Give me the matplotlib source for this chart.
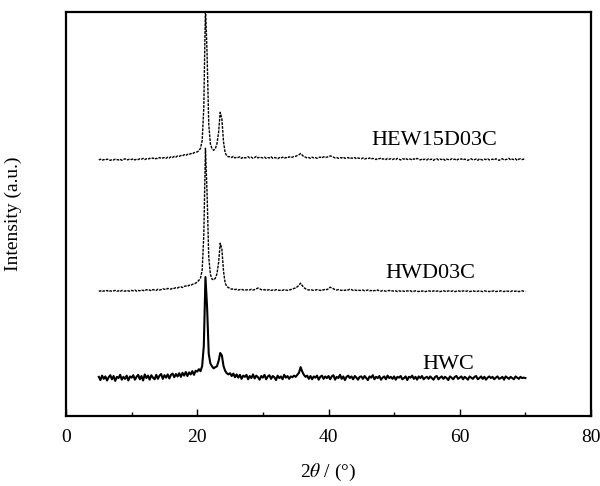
import numpy as np
import matplotlib.pyplot as plt

# Du lieu XRD doc tu hinh (cuong do tuong doi so voi duong nen cua moi mau)
# Luoi 2theo: 5 -> 70 do, buoc 0.25 (moi hang 20 diem = 5 do)
two_theta = np.linspace(5, 70, 261)

hwc = [
    0.3, -0.5, 0.6, -0.2, 0.4, -0.6, 0.2, 0.7, -0.3, 0.5, -0.7, 0.3, 0.0, 0.8, -0.4, 0.3, -0.2, 0.6, -0.6, 0.4,
    0.1, 0.7, -0.4, 0.3, 0.8, -0.3, 0.5, -0.6, 0.9, 0.0, 0.6, -0.4, 0.7, 0.1, -0.3, 0.8, -0.2, 0.6, 1.0, -0.2,
    0.7, 0.1, 0.9, -0.1, 0.8, 1.1, 0.2, 1.0, 0.4, 1.2, 0.3, 1.3, 0.6, 1.5, 0.5, 1.4, 0.9, 1.7, 0.8, 1.8,
    1.6, 2.2, 1.7, 3.0, 8.0, 25.0, 17.5, 6.0, 3.6, 2.9, 2.4, 2.7, 2.9, 4.2, 6.2, 5.6, 3.0, 1.8, 1.2, 0.9,
    1.2, 0.5, 1.1, 0.2, 0.9, 0.1, 0.8, -0.2, 0.6, 0.3, 0.8, -0.3, 0.5, 0.0, 0.9, -0.1, 0.6, 0.2, -0.4, 0.5,
    0.1, 0.8, -0.3, 0.4, 0.7, -0.2, 0.5, 0.2, -0.5, 0.6, 0.0, 0.4, -0.3, 0.8, 0.1, 0.5, -0.2, 0.4, 0.2, 0.6,
    0.3, 0.8, 1.3, 2.7, 1.6, 0.8, 0.3, 0.6, -0.2, 0.5, -0.3, 0.4, 0.1, 0.6, -0.4, 0.3, 0.6, -0.2, 0.4, 0.0,
    0.5, -0.3, 0.4, 0.7, -0.4, 0.3, 0.0, 0.8, -0.2, 0.4, -0.5, 0.3, 0.6, 0.0, 0.4, -0.3, 0.5, 0.1, -0.4, 0.3,
    0.4, -0.2, 0.5, 0.0, -0.5, 0.4, 0.1, 0.7, -0.3, 0.3, 0.0, 0.5, -0.4, 0.1, 0.4, -0.3, 0.6, 0.0, 0.3, -0.2,
    0.4, -0.4, 0.3, 0.1, 0.5, -0.3, 0.0, 0.4, -0.5, 0.3, 0.1, 0.6, -0.2, 0.3, -0.4, 0.4, 0.0, 0.5, -0.3, 0.1,
    0.3, -0.2, 0.4, 0.0, -0.4, 0.3, 0.5, -0.3, 0.1, 0.4, -0.2, 0.3, 0.0, -0.5, 0.4, 0.1, -0.3, 0.3, 0.5, -0.2,
    0.1, 0.4, -0.3, 0.3, 0.0, -0.4, 0.4, 0.1, -0.2, 0.3, 0.5, -0.3, 0.0, 0.4, -0.2, 0.3, -0.4, 0.1, 0.4, 0.0,
    0.3, -0.3, 0.1, 0.4, -0.2, 0.0, 0.3, -0.4, 0.4, 0.1, -0.2, 0.3, 0.0, -0.3, 0.4, 0.1, -0.2, 0.3, 0.0, 0.1,
    0.0,
]

hwd03c = [
    0.0, 0.1, -0.1, 0.1, 0.0, 0.2, -0.1, 0.1, 0.0, 0.1, 0.2, 0.0, 0.1, -0.1, 0.2, 0.1, 0.0, 0.2, 0.1, 0.0,
    0.2, 0.1, 0.3, 0.0, 0.2, 0.1, 0.3, 0.2, 0.1, 0.4, 0.2, 0.3, 0.1, 0.4, 0.3, 0.2, 0.5, 0.3, 0.4, 0.6,
    0.5, 0.4, 0.7, 0.6, 0.5, 0.8, 0.7, 0.9, 0.8, 1.0, 1.1, 0.9, 1.2, 1.3, 1.2, 1.5, 1.4, 1.7, 1.8, 2.0,
    2.3, 2.7, 3.3, 5.2, 14.0, 35.4, 24.0, 8.5, 4.2, 3.0, 2.8, 3.2, 4.3, 7.0, 11.9, 10.5, 5.0, 2.0, 1.2, 0.9,
    0.7, 0.5, 0.6, 0.4, 0.5, 0.3, 0.4, 0.5, 0.3, 0.4, 0.3, 0.4, 0.3, 0.5, 0.3, 0.4, 0.6, 0.8, 0.6, 0.4,
    0.3, 0.4, 0.2, 0.3, 0.4, 0.2, 0.3, 0.2, 0.4, 0.3, 0.2, 0.3, 0.2, 0.4, 0.3, 0.2, 0.3, 0.4, 0.5, 0.7,
    0.8, 1.1, 1.5, 2.0, 1.4, 0.9, 0.6, 0.4, 0.3, 0.4, 0.3, 0.2, 0.3, 0.4, 0.3, 0.2, 0.4, 0.3, 0.5, 0.4,
    0.6, 1.0, 0.8, 0.6, 0.4, 0.3, 0.4, 0.3, 0.2, 0.3, 0.2, 0.4, 0.3, 0.5, 0.4, 0.2, 0.3, 0.2, 0.3, 0.2,
    0.2, 0.3, 0.1, 0.2, 0.3, 0.1, 0.2, 0.0, 0.2, 0.1, 0.3, 0.1, 0.0, 0.2, 0.1, 0.0, 0.1, 0.2, 0.0, 0.1,
    0.0, 0.1, -0.1, 0.1, 0.0, 0.1, 0.0, -0.1, 0.1, 0.0, 0.1, -0.1, 0.0, 0.1, 0.0, -0.1, 0.1, 0.0, 0.1, -0.1,
    0.0, 0.1, 0.0, -0.1, 0.1, 0.0, 0.0, 0.1, -0.1, 0.0, 0.1, 0.0, -0.1, 0.1, 0.0, 0.0, 0.1, -0.1, 0.0, 0.1,
    0.0, -0.1, 0.1, 0.0, 0.0, 0.1, -0.1, 0.0, 0.1, 0.0, -0.1, 0.0, 0.1, 0.0, -0.1, 0.1, 0.0, 0.0, -0.1, 0.1,
    0.0, 0.1, -0.1, 0.0, 0.0, 0.1, 0.0, -0.1, 0.1, 0.0, 0.0, -0.1, 0.1, 0.0, 0.0, 0.1, -0.1, 0.0, 0.1, 0.0,
    0.0,
]

hew15d03c = [
    0.0, 0.2, -0.1, 0.1, 0.0, 0.2, 0.1, -0.1, 0.1, 0.0, 0.2, 0.1, 0.0, 0.2, -0.1, 0.1, 0.3, 0.0, 0.1, 0.2,
    0.1, 0.3, 0.0, 0.2, 0.1, 0.3, 0.2, 0.4, 0.1, 0.3, 0.2, 0.4, 0.3, 0.5, 0.2, 0.4, 0.3, 0.6, 0.4, 0.5,
    0.6, 0.4, 0.7, 0.5, 0.8, 0.6, 0.9, 0.7, 1.0, 0.9, 1.1, 1.0, 1.3, 1.1, 1.4, 1.3, 1.6, 1.5, 1.8, 1.9,
    2.0, 2.3, 2.9, 4.8, 13.0, 38.5, 26.0, 9.0, 4.0, 2.8, 2.4, 2.8, 4.0, 6.8, 11.8, 10.2, 4.5, 1.8, 1.0, 0.8,
    0.8, 0.6, 0.9, 0.5, 0.7, 0.6, 0.8, 0.4, 0.7, 0.5, 0.6, 0.8, 0.5, 0.7, 0.4, 0.6, 0.9, 0.5, 0.7, 0.6,
    0.5, 0.7, 0.4, 0.6, 0.5, 0.8, 0.4, 0.6, 0.5, 0.3, 0.6, 0.5, 0.7, 0.4, 0.6, 0.5, 0.8, 0.6, 0.7, 0.9,
    0.9, 1.1, 1.3, 1.6, 1.2, 0.8, 0.7, 0.5, 0.6, 0.4, 0.7, 0.5, 0.6, 0.4, 0.6, 0.7, 0.5, 0.8, 0.6, 0.7,
    0.8, 1.0, 0.9, 0.7, 0.5, 0.6, 0.4, 0.6, 0.5, 0.7, 0.4, 0.5, 0.6, 0.3, 0.5, 0.4, 0.6, 0.3, 0.5, 0.4,
    0.3, 0.5, 0.2, 0.4, 0.3, 0.5, 0.2, 0.4, 0.3, 0.1, 0.4, 0.3, 0.5, 0.2, 0.3, 0.1, 0.4, 0.2, 0.3, 0.1,
    0.3, 0.1, 0.4, 0.2, 0.0, 0.3, 0.2, 0.4, 0.1, 0.3, 0.2, 0.0, 0.3, 0.1, 0.4, 0.2, 0.0, 0.3, 0.1, 0.2,
    0.0, 0.3, 0.1, 0.2, -0.1, 0.2, 0.3, 0.0, 0.2, 0.1, 0.3, -0.1, 0.2, 0.1, 0.0, 0.3, 0.1, 0.2, -0.1, 0.2,
    0.1, 0.3, 0.0, 0.2, 0.1, -0.1, 0.2, 0.3, 0.0, 0.1, 0.2, -0.1, 0.3, 0.1, 0.0, 0.2, 0.1, 0.3, 0.0, 0.1,
    0.2, 0.0, 0.3, 0.1, -0.1, 0.2, 0.3, 0.0, 0.1, 0.2, 0.4, 0.0, 0.2, 0.1, 0.3, -0.1, 0.2, 0.3, 0.1, 0.2,
    0.1,
]

sample_names = ["HWC", "HWD03C", "HEW15D03C"]
offsets = [9.4, 30.9, 63.4]     # duong nen cua moi mau tren truc y

for s in (hwc, hwd03c, hew15d03c):
    assert len(s) == len(two_theta), len(s)

plt.rcParams['font.family'] = ['Liberation Serif', 'DejaVu Serif']
plt.rcParams['mathtext.fontset'] = 'stix'

fig = plt.figure(figsize=(6, 4.86), dpi=100)
ax = fig.add_axes([0.11, 0.144, 0.875, 0.831])

# HWC: net lien, hai mau con lai: net cham
ax.plot(two_theta, np.array(hwc) + offsets[0], color='black', linewidth=1.5)
ax.plot(two_theta, np.array(hwd03c) + offsets[1], color='black', linewidth=1.0,
        linestyle=(0, (2.0, 0.8)))
ax.plot(two_theta, np.array(hew15d03c) + offsets[2], color='black', linewidth=1.0,
        linestyle=(0, (2.0, 0.8)))

# Nhan ten mau
ax.text(58.2, 12.7, sample_names[0], fontsize=16, ha='center', va='center')
ax.text(55.5, 35.4, sample_names[1], fontsize=16, ha='center', va='center')
ax.text(56.1, 68.2, sample_names[2], fontsize=16, ha='center', va='center')

ax.set_xlim(0, 80)
ax.set_ylim(0, 100)
ax.set_xticks([0, 20, 40, 60, 80])
ax.set_xticks([10, 30, 50, 70], minor=True)
ax.set_yticks([])
ax.tick_params(axis='x', which='major', direction='in', length=5, width=1,
               labelsize=14, pad=9)
ax.tick_params(axis='x', which='minor', direction='in', length=3, width=1)

for sp in ax.spines.values():
    sp.set_linewidth(1.6)

ax.set_xlabel(r'2$\theta$ / (°)', fontsize=14, labelpad=12)
ax.set_ylabel('Intensity (a.u.)', fontsize=14, labelpad=32)

fig.savefig('out.png', dpi=100)
